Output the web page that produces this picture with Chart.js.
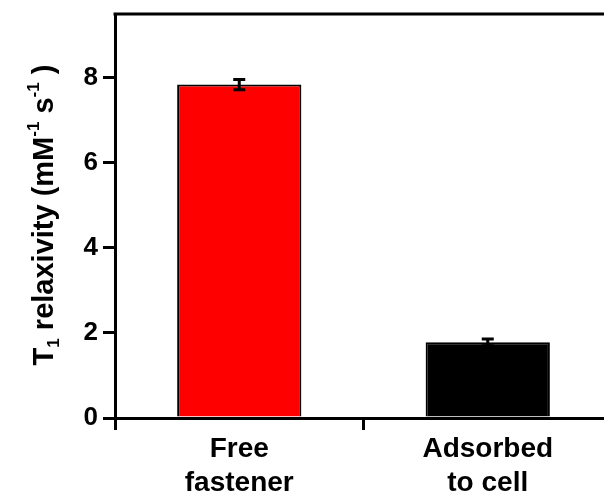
<!DOCTYPE html>
<html>
<head>
<meta charset="utf-8">
<script src="https://cdn.jsdelivr.net/npm/chart.js@4.4.1/dist/chart.umd.min.js"></script>
<style>
  html, body { margin: 0; padding: 0; background: #fff; overflow: hidden; }
  #wrap { width: 612px; height: 494px; }
</style>
</head>
<body>
<div id="wrap"><canvas id="chart"></canvas></div>
<script>
// ---------- Data ----------
const categories = [['Free', 'fastener'], ['Adsorbed', 'to cell']];
const relaxivity = [7.84, 1.78];
const relaxivityErr = [0.12, 0.08];
const barColors = ['#ff0000', '#000000'];
const yTicks = [0, 2, 4, 6, 8];
const Y_MAX = 9.5;

const FONT = '"Liberation Sans", Arial, Helvetica, sans-serif';

// ---------- Plugins ----------
// error bars drawn on top of each bar
const errorBars = {
  id: 'errorBars',
  afterDatasetsDraw(chart) {
    const ctx = chart.ctx;
    const y = chart.scales.y;
    const meta = chart.getDatasetMeta(0);
    ctx.save();
    ctx.strokeStyle = '#000';
    ctx.lineWidth = 3;
    meta.data.forEach((bar, i) => {
      const top = y.getPixelForValue(relaxivity[i] + relaxivityErr[i]);
      const bot = y.getPixelForValue(relaxivity[i] - relaxivityErr[i]);
      const x = bar.x;
      ctx.beginPath();
      ctx.moveTo(x, top); ctx.lineTo(x, bot);
      ctx.moveTo(x - 6, top); ctx.lineTo(x + 6, top);
      ctx.moveTo(x - 6, bot); ctx.lineTo(x + 6, bot);
      ctx.stroke();
    });
    ctx.restore();
  }
};

// top + right frame lines
const frame = {
  id: 'frame',
  afterDraw(chart) {
    const { ctx, chartArea: a } = chart;
    ctx.save();
    ctx.strokeStyle = '#000';
    ctx.lineWidth = 3;
    ctx.beginPath();
    ctx.moveTo(a.left - 1.5, a.top);
    ctx.lineTo(a.right, a.top);
    ctx.lineTo(a.right, a.bottom);
    ctx.stroke();
    ctx.restore();
  }
};

// y title with sub/superscripts
const yTitle = {
  id: 'yTitle',
  afterDraw(chart) {
    const ctx = chart.ctx;
    const pieces = [
      { t: 'T', size: 29, dy: 0 },
      { t: '1', size: 17, dy: 6 },
      { t: ' relaxivity (mM', size: 29, dy: 0 },
      { t: '-1', size: 17, dy: -14 },
      { t: ' s', size: 29, dy: 0 },
      { t: '-1', size: 17, dy: -14 },
      { t: ' )', size: 29, dy: 0 }
    ];
    ctx.save();
    ctx.fillStyle = '#000';
    ctx.textBaseline = 'alphabetic';
    ctx.textAlign = 'left';
    let total = 0;
    pieces.forEach(p => {
      ctx.font = `bold ${p.size}px ${FONT}`;
      p.w = ctx.measureText(p.t).width;
      total += p.w;
    });
    ctx.translate(53, 215);
    ctx.rotate(-Math.PI / 2);
    let x = -total / 2;
    pieces.forEach(p => {
      ctx.font = `bold ${p.size}px ${FONT}`;
      ctx.fillText(p.t, x, p.dy);
      x += p.w;
    });
    ctx.restore();
  }
};

// ---------- Chart ----------
new Chart(document.getElementById('chart'), {
  type: 'bar',
  data: {
    labels: categories,
    datasets: [{
      data: relaxivity,
      backgroundColor: barColors,
      borderColor: '#000',
      borderWidth: 2,
      barPercentage: 0.5,
      categoryPercentage: 1.0
    }]
  },
  options: {
    responsive: true,
    maintainAspectRatio: false,
    animation: false,
    layout: { padding: { top: 14, left: 0, right: 0, bottom: 0 } },
    plugins: { legend: { display: false }, tooltip: { enabled: false } },
    scales: {
      x: {
        offset: true,
        grid: { offset: true, drawOnChartArea: false, drawTicks: true, tickLength: 12, color: '#000', lineWidth: 3 },
        border: { display: true, color: '#000', width: 3 },
        ticks: { color: '#000', padding: 2, font: { family: FONT, size: 28, weight: 'bold', lineHeight: 1.22 } },
        afterFit(scale) { scale.height = 76; }
      },
      y: {
        min: 0,
        max: Y_MAX,
        grid: { drawOnChartArea: false, drawTicks: true, tickLength: 12, color: '#000', lineWidth: 3 },
        border: { display: true, color: '#000', width: 3 },
        ticks: { color: '#000', padding: 5, font: { family: FONT, size: 26, weight: 'bold' } },
        afterBuildTicks(scale) { scale.ticks = yTicks.map(v => ({ value: v })); },
        afterFit(scale) { scale.width = 115; scale.paddingTop = 0; scale.paddingBottom = 0; }
      }
    }
  },
  plugins: [errorBars, frame, yTitle]
});
</script>
</body>
</html>
